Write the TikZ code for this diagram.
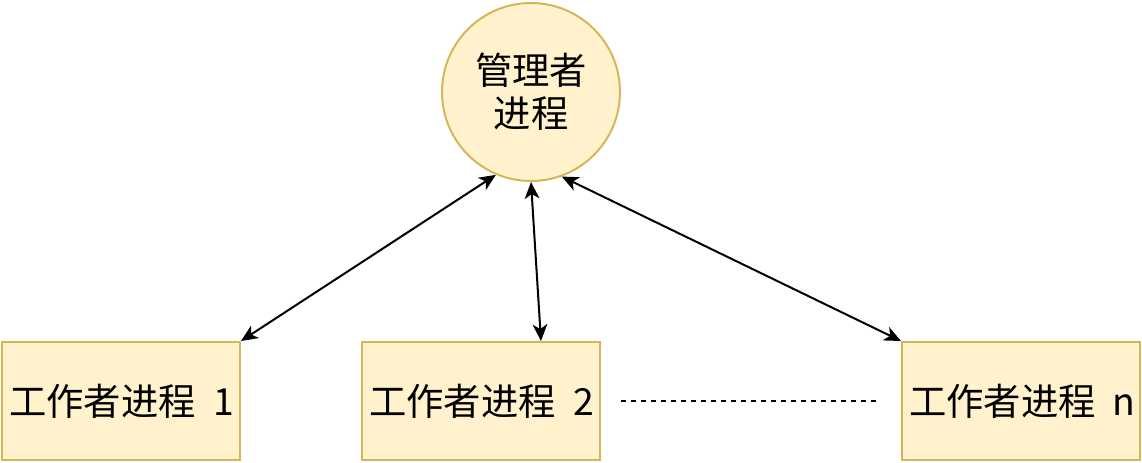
\documentclass[tikz,border=0pt]{standalone}
\usepackage{fontspec}
\setmainfont{Noto Sans CJK SC}
\usetikzlibrary{arrows.meta,calc}
\definecolor{boxfill}{HTML}{FFF2CC}
\definecolor{boxline}{HTML}{D6B656}
\newcommand\halfw[1]{\makebox[0.5em][c]{#1}}
\tikzset{
  proc/.style={draw=boxline, fill=boxfill, line width=1.5pt, minimum width=178.5pt, minimum height=88.5pt, inner sep=0pt, font=\fontsize{28pt}{32.3pt}\selectfont},
  mgr/.style={circle, draw=boxline, fill=boxfill, line width=1.5pt, minimum size=133.5pt, inner sep=0pt, align=center, font=\fontsize{28pt}{32.3pt}\selectfont},
  tip/.tip={Stealth[length=12.5pt,width=11pt,inset=3.5pt]},
  link/.style={line width=1.5pt, tip-tip},
  dots/.style={line width=1.5pt, dash pattern=on 3.75pt off 3.75pt}
}
\begin{document}
\begin{tikzpicture}[x=0.75pt,y=-0.75pt]
\useasboundingbox (0,0) rectangle (1142,462);
\node[mgr] (m) at (531,92) {管理者\\进程};
\node[proc] (w1) at (121,401) {工作者进程\halfw{}\halfw{1}};
\node[proc] (w2) at (481,401) {工作者进程\halfw{}\halfw{2}};
\node[proc] (w3) at (1021,401) {工作者进程\halfw{}\halfw{n}};
\coordinate (d1) at (621,401);
\coordinate (d2) at (879,401);
\draw[link] (m.247) -- (w1.north east);
\draw[link] (m.south) -- ($(w2.north)!0.5!(w2.north east)$);
\draw[link] (m.290) -- (w3.north west);
\draw[dots] (d1) -- (d2);
\end{tikzpicture}
\end{document}
